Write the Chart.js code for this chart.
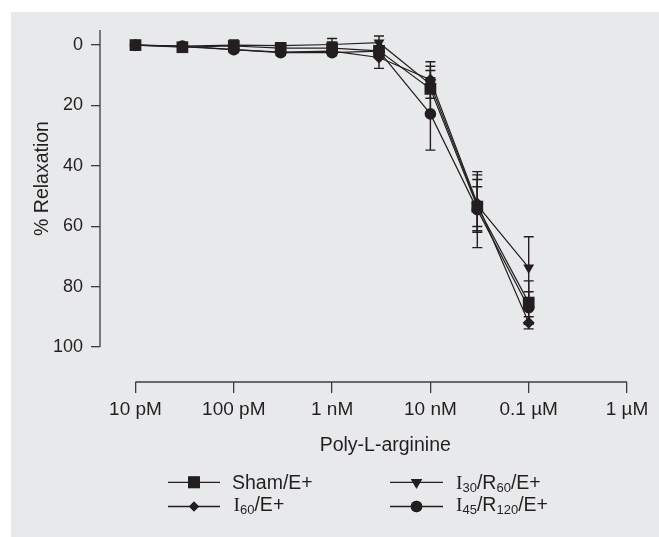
<!DOCTYPE html>
<html>
<head>
<meta charset="utf-8">
<script src="https://cdn.jsdelivr.net/npm/chart.js@4.4.1/dist/chart.umd.min.js"></script>
<style>
  html, body { margin: 0; padding: 0; background: #ffffff; }
  #wrap { position: relative; width: 659px; height: 537px; overflow: hidden; }
  #panel { position: absolute; left: 11px; top: 12px; right: 0; bottom: 0; background: #e8e9eb; }
  #c { position: absolute; left: 0; top: 0; }
</style>
</head>
<body>
<div id="wrap">
  <div id="panel"></div>
  <canvas id="c" width="659" height="537"></canvas>
</div>
<script>
// ---- data ----
const concentrations = [1e-11, 3e-11, 1e-10, 3e-10, 1e-9, 3e-9, 1e-8, 3e-8, 1e-7]; // molar
const seriesLabels = ['Sham/E+', 'I_{60}/E+', 'I_{30}/R_{60}/E+', 'I_{45}/R_{120}/E+'];
const shamMean = [0, 0.7, 0.3, 1.0, 1.0, 1.9, 14.5, 53.5, 85.3];
const shamSem  = [0, 0, 2.0, 1.5, 1.0, 1.5, 9.0, 6.6, 7.2];
const i60Mean  = [0, 0.5, 1.5, 2.3, 2.0, 4.1, 11.5, 52.5, 92.0];
const i60Sem   = [0, 0, 1.0, 1.0, 1.0, 3.6, 4.5, 9.5, 2.0];
const i30Mean  = [0, 0.3, 0, 0.2, -0.2, -0.8, 13.0, 53.0, 73.7];
const i30Sem   = [0, 0, 1.0, 1.0, 2.0, 2.2, 4.6, 8.5, 10.2];
const i45Mean  = [0, 0.3, 1.5, 2.5, 2.5, 2.0, 22.8, 54.5, 87.0];
const i45Sem   = [0, 0, 1.0, 1.0, 1.0, 1.0, 12.0, 12.6, 5.3];
const xTickValues = [1e-11, 1e-10, 1e-9, 1e-8, 1e-7, 1e-6];
const xTickLabels = ['10 pM', '100 pM', '1 nM', '10 nM', '0.1 µM', '1 µM'];
const yTickValues = [0, 20, 40, 60, 80, 100];
const xTitle = 'Poly-L-arginine';
const yTitle = '% Relaxation';

// ---- styling ----
const INK = '#231f20';
const AXIS = '#3c3c3c';
const SANS = '"Liberation Sans", Arial, Helvetica, sans-serif';
const SERIF = '"Liberation Serif", "Times New Roman", serif';

const means = [shamMean, i60Mean, i30Mean, i45Mean];
const sems = [shamSem, i60Sem, i30Sem, i45Sem];
const markerStyles = [
  { pointStyle: 'rect', radius: 8.3, rotation: 0, legendRadius: 8.3 },
  { pointStyle: 'rectRot', radius: 6, rotation: 0, legendRadius: 5 },
  { pointStyle: 'triangle', radius: 6.3, rotation: 180, legendRadius: 6.5 },
  { pointStyle: 'circle', radius: 5.8, rotation: 0, legendRadius: 5.8 }
];

const datasets = means.map((m, i) => ({
  label: seriesLabels[i],
  data: concentrations.map((c, j) => ({ x: c, y: m[j] })),
  borderColor: INK,
  backgroundColor: INK,
  borderWidth: 1.2,
  pointStyle: markerStyles[i].pointStyle,
  pointRadius: markerStyles[i].radius,
  pointRotation: markerStyles[i].rotation,
  pointBackgroundColor: INK,
  pointBorderColor: INK,
  pointBorderWidth: 0,
  tension: 0,
  fill: false
}));

function drawRich(ctx, text, x, y, size) {
  const parts = text.split(/(_\{[^}]*\})/).filter(Boolean);
  let cx = x;
  ctx.textBaseline = 'alphabetic';
  ctx.textAlign = 'left';
  for (const p of parts) {
    if (p.startsWith('_{')) {
      const t = p.slice(2, -1);
      ctx.font = '13px ' + SANS;
      ctx.fillText(t, cx, y + 3);
      cx += ctx.measureText(t).width;
    } else {
      const segs = p.split(/(I)/).filter(Boolean);
      for (const s of segs) {
        ctx.font = size + 'px ' + (s === 'I' ? SERIF : SANS);
        ctx.fillText(s, cx, y);
        cx += ctx.measureText(s).width;
      }
    }
  }
}

const decorPlugin = {
  id: 'decor',
  beforeDatasetsDraw(chart) {
    const ctx = chart.ctx;
    const xs = chart.scales.x, ys = chart.scales.y;
    ctx.save();
    ctx.strokeStyle = AXIS;
    ctx.lineWidth = 1.3;
    // y axis line: top of plot down to the last tick
    const yx = xs.left;
    ctx.beginPath();
    ctx.moveTo(yx, chart.chartArea.top);
    ctx.lineTo(yx, ys.getPixelForValue(yTickValues[yTickValues.length - 1]));
    ctx.stroke();
    // x axis line: first tick to last tick
    const xy = ys.bottom;
    ctx.beginPath();
    ctx.moveTo(xs.getPixelForValue(xTickValues[0]), xy);
    ctx.lineTo(xs.getPixelForValue(xTickValues[xTickValues.length - 1]), xy);
    ctx.stroke();
    ctx.restore();
  },
  afterDatasetsDraw(chart) {
    const ctx = chart.ctx;
    const xs = chart.scales.x, ys = chart.scales.y;
    ctx.save();
    ctx.strokeStyle = INK;
    ctx.lineWidth = 1.4;
    const cap = 5;
    means.forEach((m, i) => {
      m.forEach((v, j) => {
        const e = sems[i][j];
        if (!e) return;
        const px = xs.getPixelForValue(concentrations[j]);
        const p1 = ys.getPixelForValue(v - e);
        const p2 = ys.getPixelForValue(v + e);
        ctx.beginPath();
        ctx.moveTo(px, p1); ctx.lineTo(px, p2);
        ctx.moveTo(px - cap, p1); ctx.lineTo(px + cap, p1);
        ctx.moveTo(px - cap, p2); ctx.lineTo(px + cap, p2);
        ctx.stroke();
      });
    });
    ctx.restore();
  },
  afterDraw(chart) {
    const ctx = chart.ctx;
    const xs = chart.scales.x;
    ctx.save();
    ctx.fillStyle = INK;
    // axis titles
    ctx.font = '19.5px ' + SANS;
    ctx.textAlign = 'center';
    ctx.textBaseline = 'alphabetic';
    const xCenter = (xs.getPixelForValue(xTickValues[0]) + xs.getPixelForValue(xTickValues[xTickValues.length - 1])) / 2 + 4;
    ctx.fillText(xTitle, xCenter, 451);
    ctx.save();
    ctx.translate(47.5, 178.5);
    ctx.rotate(-Math.PI / 2);
    ctx.fillText(yTitle, 0, 0);
    ctx.restore();
    // legend
    const cols = [{ x1: 168, x2: 220, tx: 232 }, { x1: 390, x2: 443, tx: 456 }];
    const rows = [{ ly: 482.3, ty: 488.5 }, { ly: 506.5, ty: 510.5 }];
    const place = [[0, 0], [0, 1], [1, 0], [1, 1]];
    seriesLabels.forEach((lab, i) => {
      const c = cols[place[i][0]], r = rows[place[i][1]];
      ctx.strokeStyle = INK;
      ctx.lineWidth = 1.3;
      ctx.beginPath();
      ctx.moveTo(c.x1, r.ly); ctx.lineTo(c.x2, r.ly);
      ctx.stroke();
      ctx.fillStyle = INK;
      Chart.helpers.drawPoint(ctx, {
        pointStyle: markerStyles[i].pointStyle,
        radius: markerStyles[i].legendRadius,
        rotation: markerStyles[i].rotation,
        borderWidth: 0
      }, (c.x1 + c.x2) / 2, r.ly);
      ctx.fill();
      ctx.fillStyle = INK;
      drawRich(ctx, lab, c.tx + (i === 1 ? 1.5 : 0), r.ty, 19.5);
    });
    ctx.restore();
  }
};

new Chart(document.getElementById('c'), {
  type: 'line',
  data: { datasets },
  options: {
    responsive: false,
    animation: false,
    devicePixelRatio: 1,
    layout: { padding: { top: 30, right: 32, bottom: 95, left: 0 } },
    plugins: { legend: { display: false }, tooltip: { enabled: false } },
    scales: {
      x: {
        type: 'logarithmic',
        position: 'bottom',
        min: Math.pow(10, -11.361),
        max: 1e-6,
        afterBuildTicks: s => { s.ticks = xTickValues.map(v => ({ value: v })); },
        afterFit: s => { s.height = 60; },
        ticks: {
          autoSkip: false, maxRotation: 0, minRotation: 0,
          color: INK, padding: 5,
          font: { family: SANS, size: 19 },
          callback: (v, i) => xTickLabels[i]
        },
        grid: { display: true, drawOnChartArea: false, drawTicks: true, tickLength: 11, color: AXIS, lineWidth: 1.3 },
        border: { display: false }
      },
      y: {
        type: 'linear',
        reverse: true,
        min: -5,
        max: 111.6,
        afterBuildTicks: s => { s.ticks = yTickValues.map(v => ({ value: v })); },
        afterFit: s => { s.width = 100; },
        ticks: {
          color: INK, padding: 8,
          font: { family: SANS, size: 18 },
          callback: v => String(v)
        },
        grid: { display: true, drawOnChartArea: false, drawTicks: true, tickLength: 9, color: AXIS, lineWidth: 1.3 },
        border: { display: false }
      }
    }
  },
  plugins: [decorPlugin]
});
</script>
</body>
</html>
